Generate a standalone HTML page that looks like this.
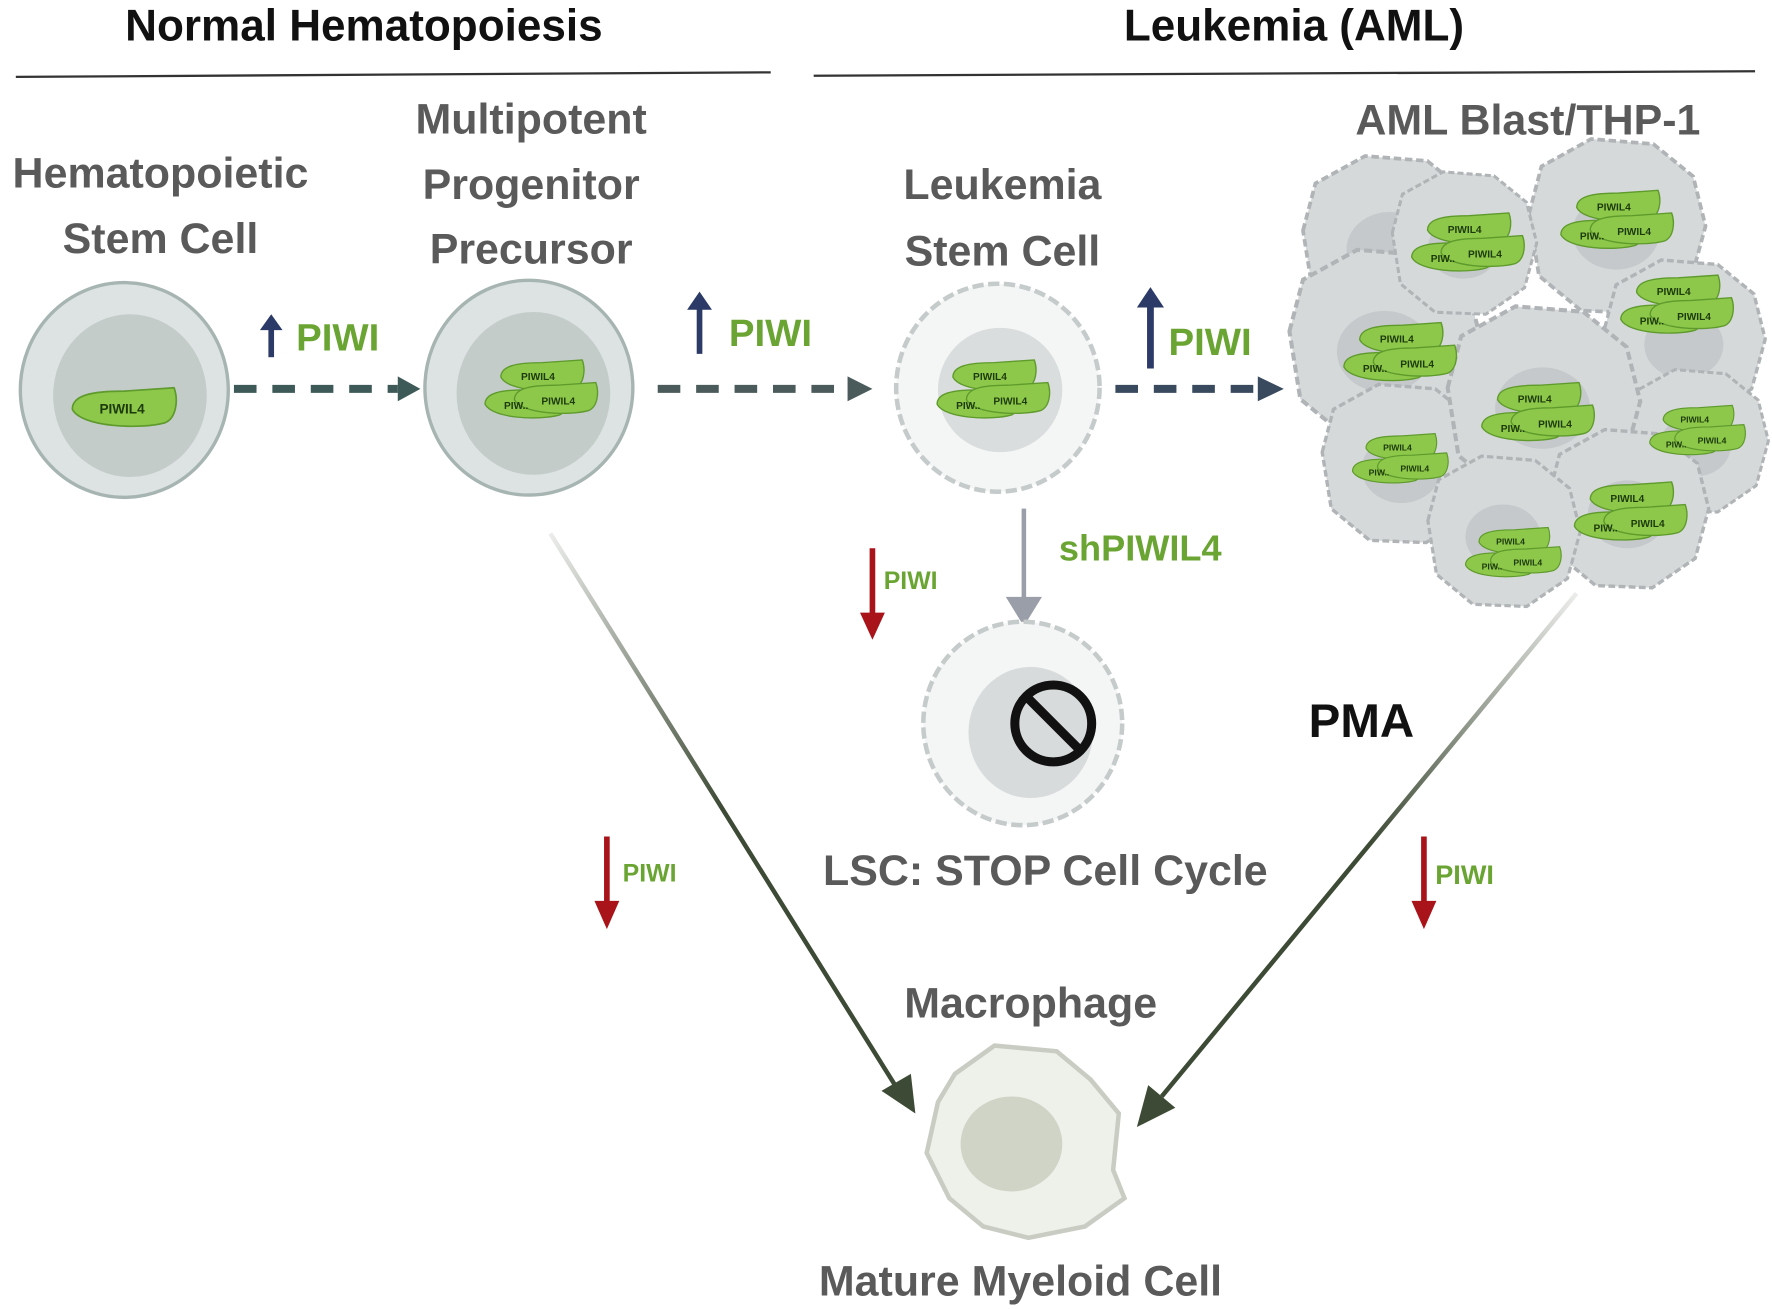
<!DOCTYPE html>
<html><head><meta charset="utf-8"><style>
html,body{margin:0;padding:0;background:#fff}
svg{display:block}
text{font-family:"Liberation Sans",sans-serif}
</style></head><body>
<svg width="1772" height="1309" viewBox="0 0 1568 1158" preserveAspectRatio="none" xmlns="http://www.w3.org/2000/svg">
<defs>
<path id="blob" d="M-46,2 C-46,-10 -30,-14 0,-14 L44,-17 C48,-6 46,10 36,14 C14,20 -38,18 -46,2Z" fill="#8dc84a" stroke="#5e9a2c" stroke-width="1.5"/>
<linearGradient id="gL" x1="0" y1="0" x2="1" y2="1"><stop offset="0" stop-color="#3d4a35" stop-opacity="0.1"/><stop offset="0.5" stop-color="#3d4a35"/></linearGradient>
<linearGradient id="gR" x1="1" y1="0" x2="0" y2="1"><stop offset="0" stop-color="#3d4a35" stop-opacity="0.1"/><stop offset="0.5" stop-color="#3d4a35"/></linearGradient>
<g id="pair">
<use href="#blob" transform="translate(0,-8) scale(0.8)"/>
<text x="-4" y="-4" font-size="9" font-weight="bold" fill="#1d3a0b" text-anchor="middle">PIWIL4</text>
<use href="#blob" transform="translate(-14,16) scale(0.8)"/>
<use href="#blob" transform="translate(12,12) scale(0.8)"/>
<text x="14" y="18" font-size="9" font-weight="bold" fill="#1d3a0b" text-anchor="middle">PIWIL4</text>
<text x="-34" y="22" font-size="9" font-weight="bold" fill="#1d3a0b">PIW..</text>
</g>
<g id="amlcell">
<path d="M-70,-10 L-60,-48 L-20,-70 L30,-66 L62,-40 L72,0 L60,44 L22,70 L-28,68 L-62,40Z" fill="#d6d9da" stroke="#b0b4b6" stroke-width="3" stroke-dasharray="6 3"/>
<ellipse cx="0" cy="5" rx="35" ry="30" fill="#c6c9cb"/>
</g>
</defs>

<text x="322" y="36" font-size="39" font-weight="bold" text-anchor="middle" fill="#111">Normal Hematopoiesis</text>
<text x="1145" y="36" font-size="39" font-weight="bold" text-anchor="middle" fill="#111">Leukemia (AML)</text>
<line x1="14" y1="68" x2="682" y2="64" stroke="#333" stroke-width="2"/>
<line x1="720" y1="67" x2="1553" y2="63" stroke="#333" stroke-width="2"/>

<g font-size="38" font-weight="bold" fill="#5a5a5a" text-anchor="middle">
<text x="142" y="166">Hematopoietic</text><text x="142" y="224">Stem Cell</text>
<text x="470" y="118">Multipotent</text><text x="470" y="176">Progenitor</text><text x="470" y="233">Precursor</text>
<text x="887" y="176">Leukemia</text><text x="887" y="235">Stem Cell</text>
<text x="1352" y="119">AML Blast/THP-1</text>
<text x="925" y="783">LSC: STOP Cell Cycle</text>
<text x="912" y="900">Macrophage</text>
<text x="903" y="1146">Mature Myeloid Cell</text>
</g>

<ellipse cx="110" cy="345" rx="92" ry="95" fill="#dde3e3" stroke="#a7b5b2" stroke-width="3"/>
<ellipse cx="115" cy="350" rx="68" ry="72" fill="#c4ccca"/>
<use href="#blob" transform="translate(110,360)"/>
<text x="108" y="366" font-size="12" font-weight="bold" fill="#1d3a0b" text-anchor="middle">PIWIL4</text>

<ellipse cx="468" cy="343" rx="92" ry="95" fill="#dde3e3" stroke="#a7b5b2" stroke-width="3"/>
<ellipse cx="472" cy="348" rx="68" ry="72" fill="#c4ccca"/>
<use href="#pair" transform="translate(480,340)"/>

<ellipse cx="883" cy="343" rx="90" ry="92" fill="#f4f5f5" stroke="#c5cacb" stroke-width="4" stroke-dasharray="10 4"/>
<ellipse cx="885" cy="345" rx="55" ry="55" fill="#dadddd"/>
<use href="#pair" transform="translate(880,340)"/>

<use href="#amlcell" transform="translate(1230,215) scale(1.1)"/>
<use href="#amlcell" transform="translate(1430,200) scale(1.1)"/>
<use href="#amlcell" transform="translate(1490,300) scale(1.0)"/>
<use href="#amlcell" transform="translate(1225,305) scale(1.2)"/>
<use href="#amlcell" transform="translate(1500,390) scale(0.9)"/>
<use href="#amlcell" transform="translate(1240,410) scale(1.0)"/>
<use href="#amlcell" transform="translate(1365,355) scale(1.2)"/>
<use href="#amlcell" transform="translate(1440,450) scale(1.0)"/>
<use href="#amlcell" transform="translate(1330,470) scale(0.95)"/>
<use href="#amlcell" transform="translate(1295,215) scale(0.9)"/>
<use href="#pair" transform="translate(1300,210)"/>
<use href="#pair" transform="translate(1432,190)"/>
<use href="#pair" transform="translate(1485,265)"/>
<use href="#pair" transform="translate(1240,307)"/>
<use href="#pair" transform="translate(1362,360)"/>
<use href="#pair" transform="translate(1503,377) scale(0.85)"/>
<use href="#pair" transform="translate(1240,402) scale(0.85)"/>
<use href="#pair" transform="translate(1444,448)"/>
<use href="#pair" transform="translate(1340,485) scale(0.85)"/>

<g stroke-width="7" stroke-dasharray="20 14" fill="none">
<line x1="207" y1="344" x2="352" y2="344" stroke="#3e5a58"/>
<line x1="582" y1="344" x2="752" y2="344" stroke="#4b5b5b"/>
<line x1="987" y1="344" x2="1115" y2="344" stroke="#3a4a5e"/>
</g>
<polygon points="352,333 372,344 352,355" fill="#3e5a58"/>
<polygon points="750,333 772,344 750,355" fill="#4b5b5b"/>
<polygon points="1113,333 1136,344 1113,355" fill="#3a4a5e"/>

<g fill="#2b3a66" stroke="#2b3a66">
<line x1="240" y1="316" x2="240" y2="290" stroke-width="5"/><polygon points="230,292 240,278 250,292" stroke="none"/>
<line x1="619" y1="313" x2="619" y2="270" stroke-width="5"/><polygon points="608,274 619,258 630,274" stroke="none"/>
<line x1="1018" y1="326" x2="1018" y2="270" stroke-width="6"/><polygon points="1006,272 1018,254 1030,272" stroke="none"/>
</g>
<g font-weight="bold" fill="#6aa533">
<text x="262" y="310" font-size="34">PIWI</text>
<text x="645" y="306" font-size="34">PIWI</text>
<text x="1034" y="314" font-size="34">PIWI</text>
<text x="937" y="496" font-size="32">shPIWIL4</text>
<text x="782" y="521" font-size="22">PIWI</text>
<text x="551" y="780" font-size="22">PIWI</text>
<text x="1270" y="782" font-size="24">PIWI</text>
</g>

<line x1="906" y1="450" x2="906" y2="535" stroke="#9a9ea8" stroke-width="4"/>
<polygon points="890,528 906,554 922,528" fill="#9a9ea8"/>

<g stroke="#a8141a" fill="#a8141a">
<line x1="772" y1="485" x2="772" y2="545" stroke-width="5"/><polygon points="761,542 772,566 783,542" stroke="none"/>
<line x1="537" y1="740" x2="537" y2="800" stroke-width="5"/><polygon points="526,797 537,822 548,797" stroke="none"/>
<line x1="1260" y1="740" x2="1260" y2="800" stroke-width="5"/><polygon points="1249,797 1260,822 1271,797" stroke="none"/>
</g>

<ellipse cx="905" cy="640" rx="88" ry="90" fill="#f4f5f5" stroke="#c5cacb" stroke-width="4" stroke-dasharray="10 4"/>
<ellipse cx="912" cy="648" rx="55" ry="58" fill="#d8dbdc"/>
<circle cx="932" cy="640" r="34" fill="none" stroke="#111" stroke-width="8"/>
<line x1="909" y1="617" x2="955" y2="663" stroke="#111" stroke-width="8"/>

<text x="1158" y="652" font-size="42" font-weight="bold" fill="#111">PMA</text>

<line x1="487" y1="472" x2="792" y2="960" stroke="url(#gL)" stroke-width="4"/>
<polygon points="780,965 810,985 806,950" fill="#3d4a35"/>
<line x1="1395" y1="525" x2="1028" y2="970" stroke="url(#gR)" stroke-width="4"/>
<polygon points="1016,960 1006,997 1040,980" fill="#3d4a35"/>

<path d="M845,950 L880,925 L935,930 L965,955 L990,985 L985,1035 L995,1060 L960,1085 L910,1095 L870,1085 L840,1060 L820,1020 L830,975Z" fill="#eef0ea" stroke="#c8ccc2" stroke-width="4"/>
<ellipse cx="895" cy="1012" rx="45" ry="42" fill="#cfd4c6"/>
</svg>
</body></html>
